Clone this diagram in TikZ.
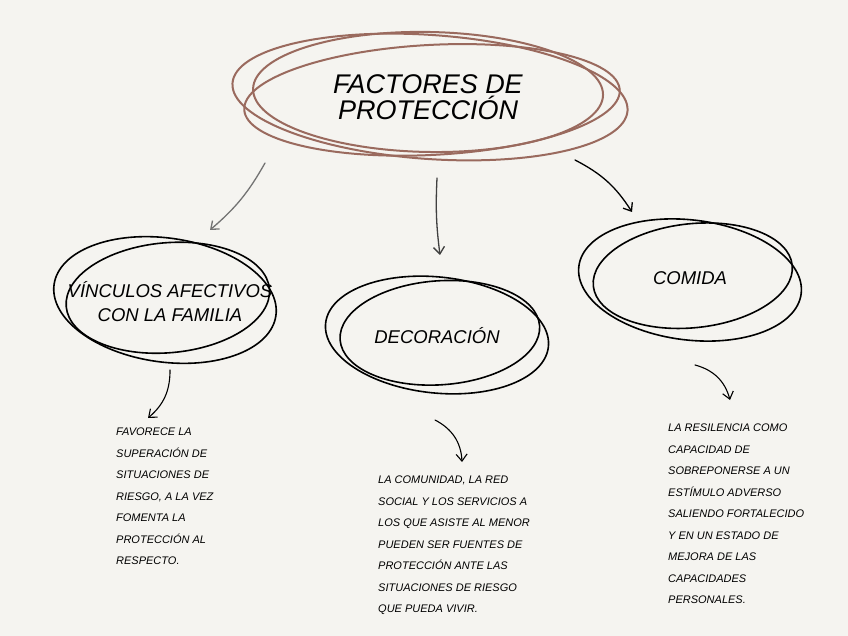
\documentclass[tikz,border=0pt]{standalone}
\usepackage{fontspec}
\setmainfont{Liberation Sans}
\usetikzlibrary{arrows.meta}
\definecolor{bg}{HTML}{F5F4F0}
\definecolor{brownl}{HTML}{9A6A5E}
\begin{document}
\begin{tikzpicture}[x=1pt,y=-1pt,
  scrib/.style={line width=1.6pt,line cap=round},
  conn/.style={line width=1.3pt,-{Straight Barb[length=7pt,width=11pt]},line cap=round},
  ttl/.style={font=\itshape\fontsize{27}{26}\selectfont,align=center},
  lbl/.style={font=\itshape\fontsize{18.5}{24}\selectfont,align=center},
  body/.style={font=\itshape\fontsize{11}{21.5}\selectfont,align=left,anchor=north west,inner sep=0pt}]
\fill[bg] (0,0) rectangle (848,636);
\useasboundingbox (0,0) rectangle (848,636);
% title
\begin{scope}[brownl,scrib,line width=2pt]
\draw[rotate around={-4:(430,97)}] (430,97) ellipse (198 and 62);
\draw[rotate around={3:(430,100)}] (432,100) ellipse (188 and 55);
\draw[rotate around={-1:(430,95)}] (428,92) ellipse (175 and 60);
\end{scope}
\node[ttl] (t) at (428,97) {FACTORES DE\\PROTECCIÓN};
% left
\begin{scope}[scrib,black]
\draw[rotate around={-8:(165,300)}] (165,300) ellipse (112 and 62);
\draw[rotate around={5:(165,300)}] (168,298) ellipse (102 and 55);
\end{scope}
\node[lbl] (a) at (170,302) {VÍNCULOS AFECTIVOS\\CON LA FAMILIA};
% middle
\begin{scope}[scrib,black]
\draw[rotate around={-6:(437,335)}] (437,335) ellipse (112 and 58);
\draw[rotate around={4:(437,335)}] (440,333) ellipse (100 and 52);
\end{scope}
\node[lbl] (b) at (437,336) {DECORACIÓN};
% right
\begin{scope}[scrib,black]
\draw[rotate around={-7:(690,280)}] (690,280) ellipse (112 and 60);
\draw[rotate around={6:(690,278)}] (693,276) ellipse (100 and 52);
\end{scope}
\node[lbl] (c) at (690,278) {COMIDA};
% arrows
\coordinate (t1) at (265,163); \coordinate (a1) at (210,230);
\coordinate (t2) at (437,178); \coordinate (b1) at (440,255);
\coordinate (t3) at (575,160); \coordinate (c1) at (632,212);
\draw[conn,gray!90!black] (t1) to[bend left=10] (a1);
\draw[conn,black!75] (t2) to[bend right=5] (b1);
\draw[conn,black] (t3) to[bend left=15] (c1);
\coordinate (a2) at (170,370); \coordinate (b2) at (435,420); \coordinate (c2) at (695,365);
\node[body] (ta) at (116,428) {FAVORECE LA\\SUPERACIÓN DE\\SITUACIONES DE\\RIESGO, A LA VEZ\\FOMENTA LA\\PROTECCIÓN AL\\RESPECTO.};
\node[body] (tb) at (378,476) {LA COMUNIDAD, LA RED\\SOCIAL Y LOS SERVICIOS A\\LOS QUE ASISTE AL MENOR\\PUEDEN SER FUENTES DE\\PROTECCIÓN ANTE LAS\\SITUACIONES DE RIESGO\\QUE PUEDA VIVIR.};
\node[body] (tc) at (668,424) {LA RESILENCIA COMO\\CAPACIDAD DE\\SOBREPONERSE A UN\\ESTÍMULO ADVERSO\\SALIENDO FORTALECIDO\\Y EN UN ESTADO DE\\MEJORA DE LAS\\CAPACIDADES\\PERSONALES.};
\coordinate (a3) at (148,418); \coordinate (b3) at (462,462); \coordinate (c3) at (730,400);
\draw[conn,line width=1.1pt] (a2) to[bend left=25] (a3);
\draw[conn,line width=1.1pt] (b2) to[bend left=30] (b3);
\draw[conn,line width=1.1pt] (c2) to[bend left=30] (c3);
\end{tikzpicture}
\end{document}
